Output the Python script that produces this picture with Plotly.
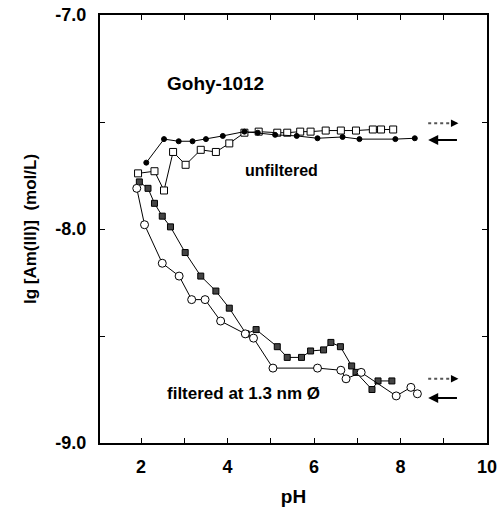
import plotly.graph_objects as go

# Unfiltered sample, titration towards higher pH (open squares)
unf_up_ph = [1.93, 2.31, 2.53, 2.74, 3.03, 3.38, 3.73, 4.04, 4.39, 4.72, 5.15, 5.38,
             5.68, 5.92, 6.27, 6.62, 6.97, 7.36, 7.55, 7.83]
unf_up_lg = [-7.74, -7.73, -7.82, -7.64, -7.70, -7.63, -7.64, -7.60, -7.55, -7.545,
             -7.55, -7.55, -7.545, -7.545, -7.54, -7.54, -7.54, -7.535, -7.535, -7.535]

# Unfiltered sample, back titration towards lower pH (filled circles)
unf_dn_ph = [8.33, 7.88, 7.05, 6.66, 6.08, 5.60, 5.10, 4.70, 4.39, 3.89, 3.50, 3.19,
             2.87, 2.53, 2.12]
unf_dn_lg = [-7.576, -7.58, -7.58, -7.57, -7.576, -7.565, -7.56, -7.55, -7.545, -7.565,
             -7.58, -7.59, -7.59, -7.58, -7.69]

# Filtered at 1.3 nm, titration towards higher pH (filled squares)
fil_up_ph = [1.96, 2.16, 2.31, 2.49, 2.68, 3.02, 3.38, 3.73, 4.04, 4.43, 4.66, 5.15,
             5.38, 5.71, 5.92, 6.22, 6.39, 6.61, 6.87, 6.97, 7.34, 7.48, 7.80]
fil_up_lg = [-7.78, -7.81, -7.88, -7.94, -7.99, -8.11, -8.22, -8.29, -8.37, -8.49,
             -8.47, -8.55, -8.60, -8.60, -8.57, -8.565, -8.53, -8.55, -8.64, -8.67,
             -8.75, -8.71, -8.71]

# Filtered at 1.3 nm, back titration towards lower pH (open circles)
fil_dn_ph = [8.39, 8.24, 7.90, 7.09, 6.74, 6.62, 6.08, 5.05, 4.60, 4.41, 3.84, 3.48,
             3.17, 2.88, 2.49, 2.08, 1.90]
fil_dn_lg = [-8.77, -8.74, -8.78, -8.67, -8.70, -8.66, -8.65, -8.65, -8.51, -8.49,
             -8.43, -8.33, -8.33, -8.22, -8.16, -7.98, -7.81]

x_ticks = [2, 3, 4, 5, 6, 7, 8, 9, 10]
x_labels = ["2", "", "4", "", "6", "", "8", "", "10"]
y_ticks = [-9.0, -8.5, -8.0, -7.5, -7.0]
y_labels = ["-9.0", "", "-8.0", "", "-7.0"]

FONT = "Liberation Sans, Arial, sans-serif"

fig = go.Figure()


def add_series(x, y, symbol, fill, size):
    fig.add_trace(go.Scatter(
        x=x, y=y, mode="lines+markers",
        line=dict(color="black", width=1),
        marker=dict(symbol=symbol, size=size, color=fill,
                    line=dict(color="black", width=1)),
        showlegend=False, hoverinfo="x+y"))


add_series(unf_up_ph, unf_up_lg, "square", "white", 7)
add_series(unf_dn_ph, unf_dn_lg, "circle", "black", 5)
add_series(fil_up_ph, fil_up_lg, "square", "#444444", 6)
add_series(fil_dn_ph, fil_dn_lg, "circle", "white", 8)

# Direction arrows: dotted = increasing pH, solid = decreasing pH
for y_up, y_dn in [(-7.506, -7.584), (-8.70, -8.79)]:
    fig.add_shape(type="line", x0=8.64, x1=9.22, y0=y_up, y1=y_up,
                  xref="x", yref="y", line=dict(color="#555555", width=2, dash="dot"))
    fig.add_annotation(x=9.34, y=y_up, ax=9.18, ay=y_up, xref="x", yref="y",
                       axref="x", ayref="y", text="", showarrow=True,
                       arrowhead=2, arrowsize=1, arrowwidth=1.5, arrowcolor="black")
    fig.add_annotation(x=8.64, y=y_dn, ax=9.34, ay=y_dn, xref="x", yref="y",
                       axref="x", ayref="y", text="", showarrow=True,
                       arrowhead=2, arrowsize=1, arrowwidth=2, arrowcolor="black")

fig.add_annotation(x=3.72, y=-7.32, text="<b>Gohy-1012</b>", showarrow=False,
                   font=dict(family=FONT, size=19, color="black"))
fig.add_annotation(x=5.25, y=-7.725, text="<b>unfiltered</b>", showarrow=False,
                   font=dict(family=FONT, size=16, color="black"))
fig.add_annotation(x=4.38, y=-8.77, text="<b>filtered at 1.3 nm Ø</b>", showarrow=False,
                   font=dict(family=FONT, size=17, color="black"))

fig.update_xaxes(range=[1.05, 10], tickmode="array", tickvals=x_ticks,
                 ticktext=[f"<b>{t}</b>" if t else "" for t in x_labels],
                 ticks="inside", ticklen=5, tickwidth=1, tickcolor="black",
                 ticklabelstandoff=6, automargin=False,
                 showline=True, linewidth=2, linecolor="black", mirror="ticks",
                 showgrid=False, zeroline=False,
                 tickfont=dict(family=FONT, size=18, color="black"),
                 title=dict(text="<b>pH</b>", standoff=14,
                            font=dict(family=FONT, size=19, color="black")))
fig.update_yaxes(range=[-9.0, -7.0], tickmode="array", tickvals=y_ticks,
                 ticktext=[f"<b>{t}</b>" if t else "" for t in y_labels],
                 ticks="inside", ticklen=5, tickwidth=1, tickcolor="black",
                 ticklabelstandoff=8, automargin=False,
                 showline=True, linewidth=2, linecolor="black", mirror="ticks",
                 showgrid=False, zeroline=False,
                 tickfont=dict(family=FONT, size=18, color="black"),
                 title=dict(text="<b>lg [Am(III)]  (mol/L)</b>", standoff=14,
                            font=dict(family=FONT, size=17, color="black")))

fig.update_layout(width=501, height=512, plot_bgcolor="white", paper_bgcolor="white",
                  margin=dict(l=100, r=14, t=15, b=69), showlegend=False)

fig.write_html("out.html")
